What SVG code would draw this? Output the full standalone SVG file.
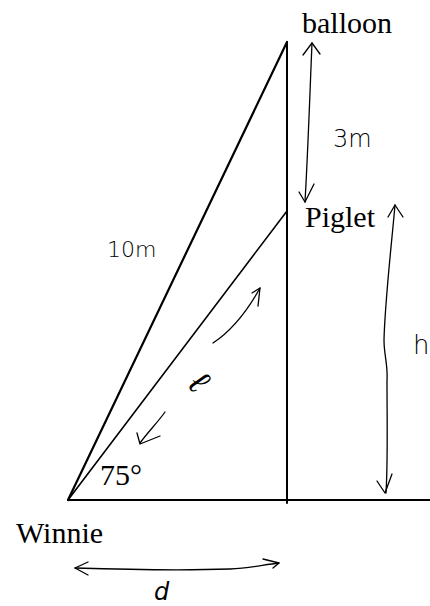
<svg xmlns="http://www.w3.org/2000/svg" width="430" height="606" viewBox="0 0 430 606">
<style>
.lbl{font-family:"Liberation Serif","Times New Roman",serif;font-size:30px;fill:#000}
.hand{font-family:"DejaVu Sans","Liberation Sans",sans-serif;font-weight:200;fill:#000}
.geo{stroke:#000;fill:none;stroke-linecap:round}
.pen{stroke:#000;fill:none;stroke-width:1.3;stroke-linecap:round;stroke-linejoin:round}
</style>
<rect width="430" height="606" fill="#fff"/>
<g id="geometry">
<line class="geo" x1="68" y1="500" x2="430" y2="500" stroke-width="2.2"/>
<line class="geo" x1="287" y1="42" x2="287" y2="503" stroke-width="2"/>
<line class="geo" x1="68" y1="500" x2="287" y2="42" stroke-width="2.2"/>
<line class="geo" x1="68" y1="500" x2="287" y2="211" stroke-width="1.6"/>
</g>
<g id="balloon"><text class="lbl" x="302" y="33">balloon</text></g>
<g id="piglet"><text class="lbl" x="305" y="227">Piglet</text></g>
<g id="winnie"><text class="lbl" x="16" y="543">Winnie</text></g>
<g id="angle"><text class="lbl" x="100" y="485">75°</text></g>
<g id="connectors">
<path class="pen" d="M312,43 C310,90 308,150 305,202"/>
<path class="pen" d="M303,55 L312,43 L320,54"/>
<path class="pen" d="M299,192 L305,202 L314,184"/>
<path class="pen" d="M395,205 C392,240 385,300 384,340 C384,355 388,365 387,380 C387,420 388,460 386,493"/>
<path class="pen" d="M388,217 L395,205 L403,217"/>
<path class="pen" d="M377,481 L385,493 L392,474"/>
<path class="pen" d="M213,343 C228,333 245,315 260,288"/>
<path class="pen" d="M252,293 L260,288 L258,306"/>
<path class="pen" d="M165,412 C158,422 148,432 140,443"/>
<path class="pen" d="M137,433 L140,444 L160,436"/>
<path class="pen" d="M75,568 C140,570 200,570 230,569 C250,568 262,565 279,563"/>
<path class="pen" d="M88,562 L75,568 L88,575"/>
<path class="pen" d="M263,559 L279,563 L273,568"/>
</g>
<g id="labels">
<text class="hand" x="333" y="147" font-size="24">3m</text>
<text class="hand" x="107" y="257" font-size="22">10m</text>
<text class="hand" x="413" y="354" font-size="26">h</text>
<text class="hand" x="154" y="600" font-size="24" font-style="italic">d</text>
<text class="hand" x="0" y="0" font-size="34" text-anchor="middle" transform="translate(190,389) rotate(55)">ℓ</text>
</g>
</svg>
